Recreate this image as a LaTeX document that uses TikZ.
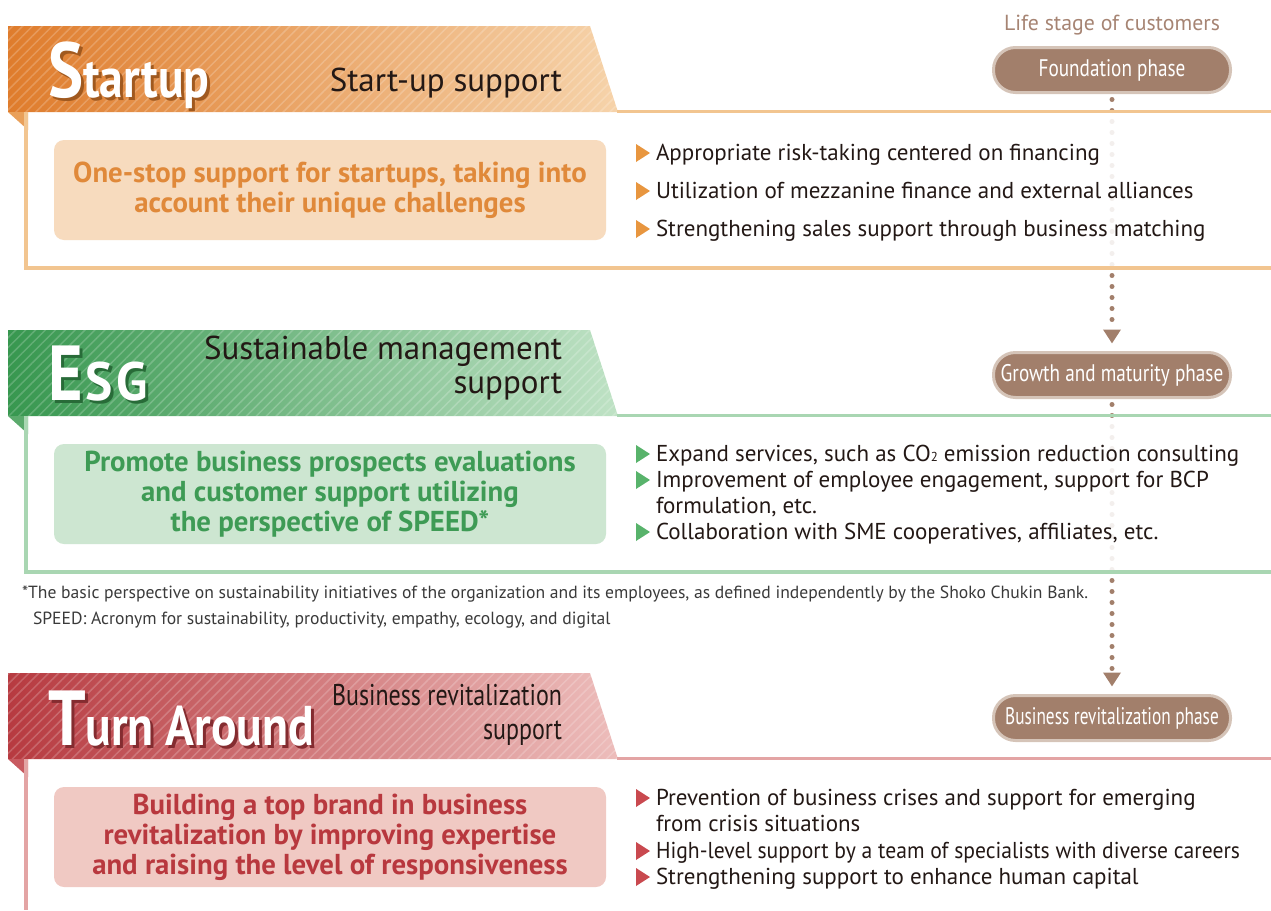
\documentclass[tikz,border=0pt]{standalone}
\usepackage{fontspec}
\setmainfont{PT Sans}
\newfontfamily\condfont[FakeStretch=0.8]{PT Sans}
\newfontfamily\ttlfont[FakeStretch=0.85]{PT Sans}
\usepackage{graphicx}
\usetikzlibrary{arrows.meta,patterns.meta,positioning}

\definecolor{orD}{HTML}{DF7C2C}
\definecolor{orL}{HTML}{F6D3AA}
\definecolor{orLine}{HTML}{F2C590}
\definecolor{orBox}{HTML}{F7DBBE}
\definecolor{orTxt}{HTML}{E0893A}
\definecolor{orTri}{HTML}{E8963F}
\definecolor{orFold}{HTML}{E9A05A}
\definecolor{orShd}{HTML}{A0591F}
\definecolor{grD}{HTML}{37974F}
\definecolor{grL}{HTML}{BFE2C5}
\definecolor{grLine}{HTML}{A9D6B2}
\definecolor{grBox}{HTML}{CDE6D1}
\definecolor{grTxt}{HTML}{3E9B55}
\definecolor{grTri}{HTML}{58B36B}
\definecolor{grFold}{HTML}{5BAA6C}
\definecolor{grShd}{HTML}{286B38}
\definecolor{rdD}{HTML}{B73A40}
\definecolor{rdL}{HTML}{EDBDBB}
\definecolor{rdLine}{HTML}{E3A4A4}
\definecolor{rdBox}{HTML}{F0C9C3}
\definecolor{rdTxt}{HTML}{B8383E}
\definecolor{rdTri}{HTML}{C9494F}
\definecolor{rdFold}{HTML}{C85A60}
\definecolor{rdShd}{HTML}{842C30}
\definecolor{pill}{HTML}{A27F6B}
\definecolor{pillRim}{HTML}{D5C4B8}
\definecolor{lifeTxt}{HTML}{A68473}
\definecolor{ink}{HTML}{231815}
\definecolor{note}{HTML}{3A3A3A}

\tikzset{
  phase/.style={draw=pillRim, line width=3pt, fill=pill, rounded corners=22pt,
    minimum width=237pt, minimum height=45pt, text=white,
    font=\condfont\fontsize{24}{26}\selectfont},
  dotarrow/.style={color=pill, line width=5pt, line cap=round,
    dash pattern=on 0pt off 11pt,
    -{Triangle[width=17pt,length=14pt]}, shorten <=7pt, shorten >=9pt},
  keybox/.style={rounded corners=10pt, minimum width=552pt, minimum height=100pt,
    align=center, font=\bfseries\fontsize{28.8}{30}\selectfont},
  itm/.style={anchor=base west, text=ink, font=\fontsize{23}{26}\selectfont},
  subttl/.style={text=ink, align=right, font=\fontsize{33}{34}\selectfont},
  ttl/.style={anchor=base west, text=white, font=\ttlfont\bfseries},
  veil/.style={fill=white, opacity=0.88},
  hatch/.style={pattern={Lines[angle=45,distance=7pt,line width=1.5pt]},
    pattern color=white, opacity=0.2},
}

\newcommand\shadowed[2]{\rlap{\hspace{3pt}\raisebox{-3pt}{\color{#1}#2}}#2}
\newcommand\ttlStartup{{\fontsize{78}{78}\selectfont S}{\fontsize{56}{56}\selectfont tartup}}
\newcommand\ttlEsg{{\fontsize{78}{78}\selectfont E}{\fontsize{54}{54}\selectfont\kern3pt\scalebox{1.12}[1]{S\kern3pt G}}}
\newcommand\ttlTurn{{\fontsize{78}{78}\selectfont T}{\fontsize{56}{56}\selectfont urn Around}}
\newcommand\subtwo{{\fontsize{13}{13}\selectfont 2}}

\begin{document}
\begin{tikzpicture}[x=1pt,y=-1pt, every node/.style={inner sep=0pt, outer sep=0pt}]
\useasboundingbox (0,0) rectangle (1271,910);

\node[anchor=base, text=lifeTxt, font=\fontsize{21.8}{24}\selectfont] (life) at (1112,30) {Life stage of customers};

\node[phase] (fnd) at (1112,70) {Foundation phase};
\node[phase] (grw) at (1112,375) {Growth and maturity phase};
\node[phase] (rev) at (1112,718) {\scalebox{0.9}[1]{Business revitalization phase}};

\draw[dotarrow] (fnd) -- (grw);
\draw[dotarrow] (grw) -- (rev);

\fill[veil] (28,114) rectangle (1271,266);
\fill[veil] (28,418) rectangle (1271,570);

\foreach \T/\cD/\cL/\cLine/\cF in {26/orD/orL/orLine/orFold, 330/grD/grL/grLine/grFold, 673/rdD/rdL/rdLine/rdFold}
{
\shade[left color=\cD, right color=\cL] (8,\T) -- (590,\T) -- (618,\T+86) -- (8,\T+86) -- cycle;
\fill[hatch] (8,\T) -- (590,\T) -- (618,\T+86) -- (8,\T+86) -- cycle;
\draw[color=\cLine, line width=3pt] (617,\T+85) -- (1271,\T+85);
\fill[\cF] (8,\T+86) -- (28,\T+86) -- (28,\T+104) -- cycle;
}

\draw[orLine, line width=3.5pt] (26,112) -- (26,268) -- (1271,268);
\draw[grLine, line width=3.5pt] (26,416) -- (26,572) -- (1271,572);
\draw[rdLine, line width=3.5pt] (26,759) -- (26,910);

% titles
\node[ttl] (tStart) at (48,97) {\shadowed{orShd}{\ttlStartup}};
\node[ttl] (tEsg) at (48,400) {\shadowed{grShd}{\ttlEsg}};
\node[ttl] (tTurn) at (48,745) {\shadowed{rdShd}{\ttlTurn}};

\node[subttl, anchor=base east] (sStart) at (562,91) {Start-up support};
\node[subttl, anchor=east] (sEsg) at (562,368) {Sustainable management\\support};
\node[subttl, anchor=east, font=\condfont\fontsize{30}{34}\selectfont] (sTurn) at (562,715) {Business revitalization\\support};

\node[keybox, fill=orBox, text=orTxt] (kStart) at (330,190) {One-stop support for startups, taking into\\account their unique challenges};
\node[keybox, fill=grBox, text=grTxt] (kEsg) at (330,494) {Promote business prospects evaluations\\and customer support utilizing\\the perspective of SPEED*};
\node[keybox, fill=rdBox, text=rdTxt] (kTurn) at (330,837) {Building a top brand in business\\revitalization by improving expertise\\and raising the level of responsiveness};

\foreach \y/\b/\t [count=\i] in {160/1/Appropriate risk-taking centered on financing,
  198/1/Utilization of mezzanine finance and external alliances,
  236/1/Strengthening sales support through business matching}
{
\node[itm] (iS\i) at (656,\y) {\t};
\ifnum\b=1 \fill[orTri] (iS\i.base west) ++(-20,2) -- ++(14,-9) -- ++(-14,-9) -- cycle; \fi
}

\foreach \y/\b/\t [count=\i] in {{461/1/Expand services, such as CO\subtwo{} emission reduction consulting},
  {487/1/Improvement of employee engagement, support for BCP},
  {513/0/formulation, etc.},
  {539/1/Collaboration with SME cooperatives, affiliates, etc.}}
{
\node[itm] (iE\i) at (656,\y) {\t};
\ifnum\b=1 \fill[grTri] (iE\i.base west) ++(-20,2) -- ++(14,-9) -- ++(-14,-9) -- cycle; \fi
}

\foreach \y/\b/\t [count=\i] in {805/1/Prevention of business crises and support for emerging,
  831/0/from crisis situations,
  858/1/\scalebox{0.94}[1]{High-level support by a team of specialists with diverse careers},
  884/1/Strengthening support to enhance human capital}
{
\node[itm] (iT\i) at (656,\y) {\t};
\ifnum\b=1 \fill[rdTri] (iT\i.base west) ++(-20,2) -- ++(14,-9) -- ++(-14,-9) -- cycle; \fi
}

\node[anchor=base west, text=note, font=\fontsize{17.6}{20}\selectfont] (fn1) at (22,598) {*The basic perspective on sustainability initiatives of the organization and its employees, as defined independently by the Shoko Chukin Bank.};
\node[anchor=base west, text=note, font=\fontsize{17.6}{20}\selectfont] (fn2) at (33,624) {SPEED: Acronym for sustainability, productivity, empathy, ecology, and digital};
\end{tikzpicture}
\end{document}
